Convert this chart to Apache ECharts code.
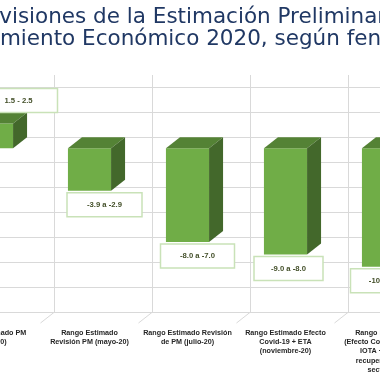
<!DOCTYPE html>
<html><head><meta charset="utf-8">
<script src="https://cdn.jsdelivr.net/npm/echarts@6/dist/echarts.min.js"></script>
<style>html,body{margin:0;padding:0;background:#fff}#c{width:380px;height:380px}</style>
</head><body><div id="c"></div>
<script>
const categories = [
  'Rango Estimado PM\n(abril-20)',
  'Rango Estimado\nRevisión PM (mayo-20)',
  'Rango Estimado Revisión\nde PM (julio-20)',
  'Rango Estimado Efecto\nCovid-19 + ETA\n(noviembre-20)',
  'Rango Estimado\n(Efecto Covid-19 + ETA\nIOTA + menor\nrecuperación de\nsectores)'
];
const barValues = [2.0, -3.4, -7.5, -8.5, -9.5];
const rangeLabels = ['1.5 - 2.5', '-3.9 a -2.9', '-8.0 a -7.0', '-9.0 a -8.0', '-10.0 a -9.0'];
const titleLines = ['Revisiones de la Estimación Preliminar del', 'Crecimiento Económico 2020, según fenómenos'];
const yMin = -14, yMax = 5, yStep = 2;

// layout (not data)
const DX = 14, DY = 11;
const boxShift = [27, 15, 10, 3, 5];
const boxWidth = [78, 75, 74, 69, 76];
const TITLE_FONT = '21.5px "DejaVu Sans"';

const chart = echarts.init(document.getElementById('c'), null, {renderer: 'canvas'});
chart.setOption({
  animation: false,
  backgroundColor: '#ffffff',
  grid: {left: -43.5, top: 75, width: 490, height: 237, containLabel: false, outerBoundsMode: 'none'},
  xAxis: {
    type: 'category', data: categories, boundaryGap: true,
    axisLine: {show: false}, axisTick: {show: false},
    splitLine: {show: true, interval: 0, lineStyle: {color: '#D9D9D9', width: 1}},
    axisLabel: {
      interval: 0, margin: 16, color: '#262626',
      fontFamily: 'Liberation Sans', fontWeight: 'bold', fontSize: 7.2, lineHeight: 9.3,
      align: 'center', padding: [0, 2 * DX, 0, 0], hideOverlap: false
    }
  },
  yAxis: {
    type: 'value', min: yMin, max: yMax, interval: yStep,
    axisLine: {show: false}, axisTick: {show: false}, axisLabel: {show: false},
    splitLine: {show: true, showMaxLine: false, lineStyle: {color: '#D9D9D9', width: 1}}
  },
  graphic: [
    {type: 'text', x: -28, y: 17.5, style: {text: titleLines[0], font: TITLE_FONT, fill: '#203864', align: 'left', verticalAlign: 'middle'}},
    {type: 'text', x: -54.5, y: 39.5, style: {text: titleLines[1], font: TITLE_FONT, fill: '#203864', align: 'left', verticalAlign: 'middle'}}
  ],
  series: [{
    type: 'custom',
    clip: false,
    data: barValues.map((v, i) => [i, v]),
    encode: {x: 0, y: 1},
    renderItem: function (params, api) {
      const i = params.dataIndex;
      const v = api.value(1);
      const base = api.coord([i, 0]);
      const end = api.coord([i, v]);
      const band = api.size([1, 0])[0];
      const bw = band * 0.44;
      const cx = base[0] - DX;
      const L = cx - bw / 2, R = cx + bw / 2;
      const ft = Math.min(base[1], end[1]) + DY;
      const fb = Math.max(base[1], end[1]) + DY;
      const floorY = api.coord([i, yMin])[1];
      const boundary = base[0] - band / 2;
      const bh = 24, w = boxWidth[i];
      const bcx = cx + boxShift[i];
      const bcy = v >= 0 ? (ft - DY - bh / 2) : (fb + 2 + bh / 2);
      return {
        type: 'group',
        children: [
          {type: 'line', shape: {x1: boundary, y1: floorY, x2: boundary - DX, y2: floorY + DY}, style: {stroke: '#D9D9D9', lineWidth: 1}},
          {type: 'rect', shape: {x: L, y: ft, width: bw, height: fb - ft}, style: {fill: '#70AD47'}},
          {type: 'polygon', shape: {points: [[L, ft], [R, ft], [R + DX, ft - DY], [L + DX, ft - DY]]}, style: {fill: '#548235'}},
          {type: 'polygon', shape: {points: [[R, ft], [R + DX, ft - DY], [R + DX, fb - DY], [R, fb]]}, style: {fill: '#43682B'}},
          {type: 'rect', shape: {x: bcx - w / 2, y: bcy - bh / 2, width: w, height: bh}, style: {fill: '#ffffff', stroke: '#C9E2B8', lineWidth: 1.5}},
          {type: 'text', x: bcx, y: bcy, style: {text: rangeLabels[i], font: 'bold 7.7px "Liberation Sans"', fill: '#44502A', align: 'center', verticalAlign: 'middle'}}
        ]
      };
    }
  }]
});
</script></body></html>
